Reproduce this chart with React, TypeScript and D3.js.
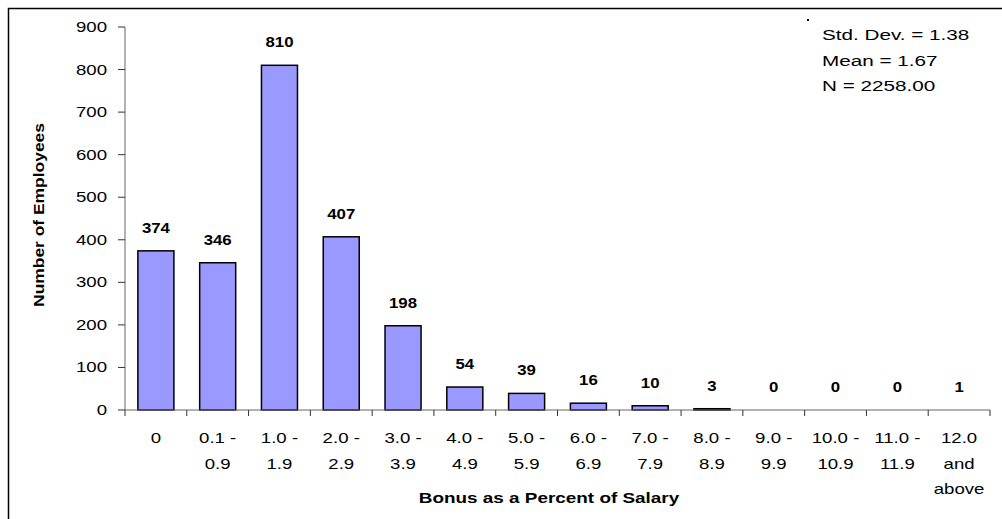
import React from "react";
import * as d3 from "d3";

const categories: string[][] = [
  ["0"],
  ["0.1 -", "0.9"],
  ["1.0 -", "1.9"],
  ["2.0 -", "2.9"],
  ["3.0 -", "3.9"],
  ["4.0 -", "4.9"],
  ["5.0 -", "5.9"],
  ["6.0 -", "6.9"],
  ["7.0 -", "7.9"],
  ["8.0 -", "8.9"],
  ["9.0 -", "9.9"],
  ["10.0 -", "10.9"],
  ["11.0 -", "11.9"],
  ["12.0", "and", "above"],
];
const counts: number[] = [374, 346, 810, 407, 198, 54, 39, 16, 10, 3, 0, 0, 0, 1];
const yTicks: number[] = [0, 100, 200, 300, 400, 500, 600, 700, 800, 900];
const statsLines: string[] = ["Std. Dev. = 1.38", "Mean = 1.67", "N = 2258.00"];
const xTitle = "Bonus as a Percent of Salary";
const yTitle = "Number of Employees";

const FONT = "'Liberation Sans', Arial, sans-serif";

function SText({ x, y, s, anchor, size, bold, rotate, children }: any) {
  const t = `translate(${x},${y})${rotate ? ` rotate(${rotate})` : ""} scale(${s},1)`;
  return (
    <text
      transform={t}
      textAnchor={anchor}
      fontFamily={FONT}
      fontSize={size}
      fontWeight={bold ? "bold" : "normal"}
      fill="#000"
    >
      {children}
    </text>
  );
}

export default function App() {
  const W = 1002;
  const H = 519;
  const left = 125;
  const right = 990;
  const y0 = 410;
  const yTop = 27;
  const idx = categories.map((_, i) => String(i));
  const x = d3.scaleBand<string>().domain(idx).range([left, right]).paddingInner(0.417).paddingOuter(0.2085);
  const y = d3.scaleLinear().domain([0, 900]).range([y0, yTop]);
  const step = (right - left) / categories.length;
  const bounds = d3.range(categories.length + 1).map((i) => left + i * step);

  return (
    <svg
      width={W}
      height={H}
      style={{ position: "absolute", left: 0, top: 0, background: "#fff" }}
    >
      <rect x={0} y={0} width={W} height={H} fill="#fff" />
      {/* frame */}
      <rect x={8.5} y={8.5} width={1100} height={600} fill="none" stroke="#000" strokeWidth={1.5} />
      <rect x={807} y={19} width={2} height={2} fill="#000" />

      {/* bars */}
      {counts.map((v, i) => {
        const h = Math.max(0, y0 - y(v));
        return h >= 1 ? (
          <rect
            key={"b" + i}
            x={x(String(i))!}
            y={y(v)}
            width={x.bandwidth()}
            height={h}
            fill="#9999ff"
            stroke="#000"
            strokeWidth={1.5}
          />
        ) : null;
      })}

      {/* y axis */}
      <line x1={left} x2={left} y1={yTop} y2={y0} stroke="#666" strokeWidth={1} />
      {yTicks.map((t) => (
        <g key={"yt" + t}>
          <line x1={118} x2={left} y1={y(t)} y2={y(t)} stroke="#333" strokeWidth={1} />
          <SText x={107} y={y(t) + 5} s={1.33} anchor="end" size={14}>
            {t}
          </SText>
        </g>
      ))}

      {/* x axis */}
      <line x1={left} x2={right} y1={y0} y2={y0} stroke="#666" strokeWidth={1} />
      {bounds.map((b, i) => (
        <line key={"xt" + i} x1={b} x2={b} y1={y0} y2={y0 + 6} stroke="#333" strokeWidth={1} />
      ))}

      {/* x labels */}
      {categories.map((lines, i) =>
        lines.map((ln, j) => (
          <SText
            key={"xl" + i + "-" + j}
            x={x(String(i))! + x.bandwidth() / 2}
            y={443 + j * 25.5}
            s={1.33}
            anchor="middle"
            size={14}
          >
            {ln}
          </SText>
        ))
      )}

      {/* value labels */}
      {counts.map((v, i) => (
        <SText
          key={"vl" + i}
          x={x(String(i))! + x.bandwidth() / 2}
          y={y(v) - 18}
          s={1.2}
          anchor="middle"
          size={14}
          bold
        >
          {v}
        </SText>
      ))}

      {/* titles */}
      <SText x={549} y={503} s={1.35} anchor="middle" size={14} bold>
        {xTitle}
      </SText>
      <SText x={44} y={215} s={1.245} anchor="middle" size={14} bold rotate={-90}>
        {yTitle}
      </SText>

      {/* stats */}
      {statsLines.map((s, i) => (
        <SText key={"st" + i} x={822} y={40 + i * 25.5} s={1.38} anchor="start" size={15}>
          {s}
        </SText>
      ))}
    </svg>
  );
}
